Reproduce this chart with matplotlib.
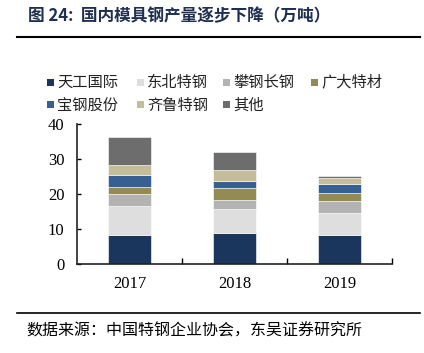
import matplotlib
matplotlib.use("Agg")
import matplotlib.pyplot as plt
from matplotlib.patches import Rectangle
from matplotlib.lines import Line2D
import numpy as np

plt.rcParams['font.family'] = ['Noto Sans CJK SC', 'DejaVu Sans']

years = ["2017", "2018", "2019"]
series_names = ["天工国际", "东北特钢", "攀钢长钢", "广大特材", "宝钢股份", "齐鲁特钢", "其他"]
tiangong = [8.4, 8.8, 8.4]
dongbei = [8.2, 6.8, 6.1]
pangang = [3.4, 2.7, 3.4]
guangda = [2.0, 3.5, 2.4]
baogang = [3.5, 2.0, 2.6]
qilu = [2.8, 3.1, 1.6]
qita = [7.9, 5.1, 0.6]
yticks = [0, 10, 20, 30, 40]

colors = ["#1b365d", "#dedede", "#b3b3b3", "#948a54", "#376092", "#c4bd97", "#6d6d6d"]
series = [tiangong, dongbei, pangang, guangda, baogang, qilu, qita]

W, H = 424, 353
fig = plt.figure(figsize=(W/100, H/100), dpi=100)
ax = fig.add_axes([77/W, 1-264/H, 315/W, 140/H])

x = np.arange(len(years))
bottom = np.zeros(len(years))
for name, vals, c in zip(series_names, series, colors):
    ax.bar(x, vals, width=0.41, bottom=bottom, color=c, label=name,
           edgecolor='white', linewidth=0.4)
    bottom += np.array(vals)

ax.set_xlim(-0.5, 2.5)
ax.set_ylim(0, 40)
ax.set_yticks(yticks)
ax.set_yticklabels([str(v) for v in yticks], fontfamily='Liberation Serif', fontsize=12)
ax.set_xticks(x)
ax.set_xticklabels(years, fontfamily='Liberation Serif', fontsize=12)
ax.set_xticks([0.5, 1.5, 2.5], minor=True)
ax.tick_params(axis='x', which='major', length=0, pad=9)
ax.tick_params(axis='x', which='minor', direction='in', length=4, width=1)
ax.tick_params(axis='y', direction='in', length=3, width=1, pad=9)
for s in ['top', 'right']:
    ax.spines[s].set_visible(False)
for s in ['left', 'bottom']:
    ax.spines[s].set_linewidth(1.2)
    ax.spines[s].set_color('#222222')

# manual legend, row-wise
col_x = [47, 137, 223, 311]
row_y = [82, 105]
for i, (name, c) in enumerate(zip(series_names, colors)):
    r, k = divmod(i, 4)
    px, py = col_x[k], row_y[r]
    fig.add_artist(Rectangle(((px)/W, 1-(py+3.5)/H), 7/W, 7/H, facecolor=c,
                             edgecolor='none', transform=fig.transFigure))
    fig.text((px+10)/W, 1-py/H, name, fontsize=11, va='center', ha='left', color='#222222')

fig.text(28/W, 1-16/H, "图 24:  国内模具钢产量逐步下降（万吨）", fontsize=12,
         fontweight='bold', color='#1f2f4f', va='center', ha='left')
fig.add_artist(Line2D([17/W, 420/W], [1-37/H, 1-37/H], color='black', linewidth=1.5))
fig.add_artist(Line2D([17/W, 420/W], [1-313/H, 1-313/H], color='black', linewidth=1.2))
fig.text(26/W, 1-331/H, "数据来源：中国特钢企业协会，东吴证券研究所", fontsize=11.5,
         color='black', va='center', ha='left')

fig.savefig("out.png", dpi=100)
